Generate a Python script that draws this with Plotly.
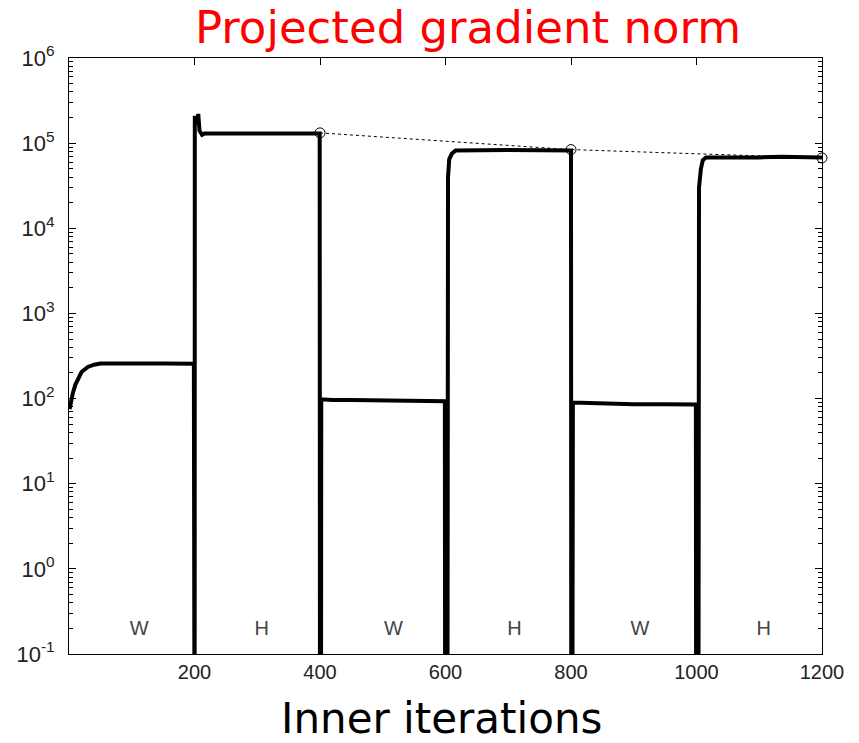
import plotly.graph_objects as go

# ---- data ----
iters = [1, 3, 6, 10, 15, 20, 30, 40, 50, 100, 150, 199,
         199.6, 200.2,
         200.5, 201.5, 205, 206, 208, 212, 216, 300, 399.5,
         400, 401.5,
         402, 420, 450, 500, 550, 599,
         599.5, 603,
         604, 606, 610, 616, 700, 760, 800,
         800.5, 802,
         803, 850, 900, 950, 999,
         999.5, 1003,
         1004, 1007, 1010, 1015, 1100, 1135, 1200]
grad_norm = [75, 92, 115, 145, 178, 205, 235, 250, 258, 261, 259, 256,
             1e-3, 1e-3,
             2.1e5, 1.75e5, 1.75e5, 2.2e5, 1.4e5, 1.25e5, 1.3e5, 1.3e5, 1.3e5,
             1e-3, 1e-3,
             98, 96, 96, 95, 94, 93,
             1e-3, 1e-3,
             4e4, 6.5e4, 7.5e4, 8.2e4, 8.3e4, 8.3e4, 8.2e4,
             1e-3, 1e-3,
             90, 87, 86, 86, 85,
             1e-3, 1e-3,
             3e4, 5e4, 6.3e4, 6.8e4, 6.8e4, 6.9e4, 6.8e4]

outer_iters = [400, 800, 1200]
outer_norm = [1.32e5, 8.4e4, 6.7e4]

block_x = [112, 307, 517, 710, 910, 1107]
block_labels = ["W", "H", "W", "H", "W", "H"]
block_y = 0.19

x_ticks = [200, 400, 600, 800, 1000, 1200]
y_exps = [-1, 0, 1, 2, 3, 4, 5, 6]

y_ticks = [10.0 ** e for e in y_exps]
y_ticktext = ["10<sup>%d</sup>" % e for e in y_exps]
y_minor = [m * 10.0 ** e for e in y_exps[:-1] for m in range(2, 10)]

fig = go.Figure()
fig.add_trace(go.Scatter(x=iters, y=grad_norm, mode="lines",
                         line=dict(color="black", width=4),
                         showlegend=False, hoverinfo="skip"))
fig.add_trace(go.Scatter(x=outer_iters, y=outer_norm, mode="lines+markers",
                         line=dict(color="black", width=1, dash="dot"),
                         marker=dict(symbol="circle-open", size=10,
                                     color="black", line=dict(width=1)),
                         cliponaxis=False, showlegend=False))
fig.add_trace(go.Scatter(x=block_x, y=[block_y] * len(block_x), mode="text",
                         text=block_labels,
                         textfont=dict(family="Liberation Sans, Arial", size=20,
                                       color="#444"),
                         showlegend=False, hoverinfo="skip"))

fig.update_layout(
    width=859, height=743,
    margin=dict(l=69, r=37, t=58, b=89),
    paper_bgcolor="white", plot_bgcolor="white",
    font=dict(family="Liberation Sans, Arial", size=20, color="#222"),
    xaxis=dict(range=[0, 1200], tickmode="array", tickvals=x_ticks,
               ticks="inside", ticklen=7, tickcolor="black",
               showline=True, linecolor="black", linewidth=1, mirror="ticks",
               showgrid=False, zeroline=False,
               tickfont=dict(size=20, color="#222")),
    yaxis=dict(type="log", range=[-1, 6], tickmode="array",
               tickvals=y_ticks, ticktext=y_ticktext,
               ticks="inside", ticklen=7, tickcolor="black",
               ticklabelstandoff=9,
               showline=True, linecolor="black", linewidth=1, mirror="ticks",
               showgrid=False, zeroline=False,
               tickfont=dict(size=22, color="#222"),
               minor=dict(tickmode="array", tickvals=y_minor, ticks="inside",
                          ticklen=4, tickcolor="black", showgrid=False)),
    annotations=[
        dict(text="Projected gradient norm", xref="paper", yref="paper",
             x=0.53, y=1.052, xanchor="center", yanchor="middle",
             showarrow=False,
             font=dict(family="DejaVu Sans", size=45, color="#ff0000")),
        dict(text="Inner iterations", xref="paper", yref="paper",
             x=0.495, y=-0.108, xanchor="center", yanchor="middle",
             showarrow=False,
             font=dict(family="DejaVu Sans", size=42, color="black")),
    ],
)

fig.write_html("out.html")
